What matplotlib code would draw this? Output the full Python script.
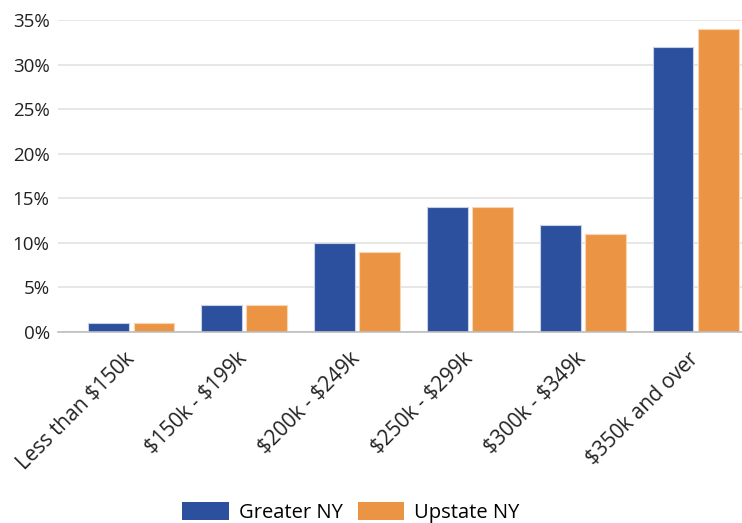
import matplotlib
matplotlib.use("Agg")
import matplotlib.pyplot as plt
import numpy as np
from matplotlib.ticker import FuncFormatter

categories = ["Less than $150k", "$150k - $199k", "$200k - $249k",
              "$250k - $299k", "$300k - $349k", "$350k and over"]
greater_ny = [1, 3, 10, 14, 12, 32]
upstate_ny = [1, 3, 9, 14, 11, 34]
series_names = ["Greater NY", "Upstate NY"]
colors = ["#2c509e", "#eb9544"]

plt.rcParams['font.family'] = ['Open Sans', 'DejaVu Sans']
plt.rcParams['text.parse_math'] = False

fig = plt.figure(figsize=(7.42, 5.23), dpi=100)
ax = fig.add_axes([58/742, 1-332/523, 684/742, (332-20)/523])

x = np.arange(len(categories))
w = 0.36
off = 0.2
ax.bar(x - off, greater_ny, w, color=colors[0], edgecolor="#c8d0e6", linewidth=0.8, label=series_names[0], zorder=3)
ax.bar(x + off, upstate_ny, w, color=colors[1], edgecolor="#f7d6b4", linewidth=0.8, label=series_names[1], zorder=3)

ax.set_ylim(0, 35)
ax.set_yticks(np.arange(0, 36, 5))
ax.yaxis.set_major_formatter(FuncFormatter(lambda v, p: f"{int(v)}%"))
ax.set_xlim(-0.65, 5.41)
ax.set_xticks(x)
ax.set_xticklabels(categories, rotation=45, ha="right", va="center", rotation_mode="anchor")
ax.tick_params(axis="both", length=0, colors="#222222")
ax.tick_params(axis="y", labelsize=13.5, pad=6)
ax.tick_params(axis="x", labelsize=15, pad=17)
ax.grid(axis="y", color="#e3e3e3", linewidth=1.2, zorder=0)
for s in ["top", "right", "left"]:
    ax.spines[s].set_visible(False)
ax.spines["bottom"].set_color("#bdbdbd")
ax.spines["bottom"].set_linewidth(1.2)
ax.spines["bottom"].set_zorder(4)

leg = fig.legend(loc="lower center", bbox_to_anchor=(351/742, -0.035), ncol=2, frameon=False,
                 fontsize=14.5, handlelength=2.3, handleheight=1.0, columnspacing=0.75, handletextpad=0.5)
for h in leg.legend_handles:
    h.set_edgecolor("none")

fig.savefig("out.png", dpi=100)
